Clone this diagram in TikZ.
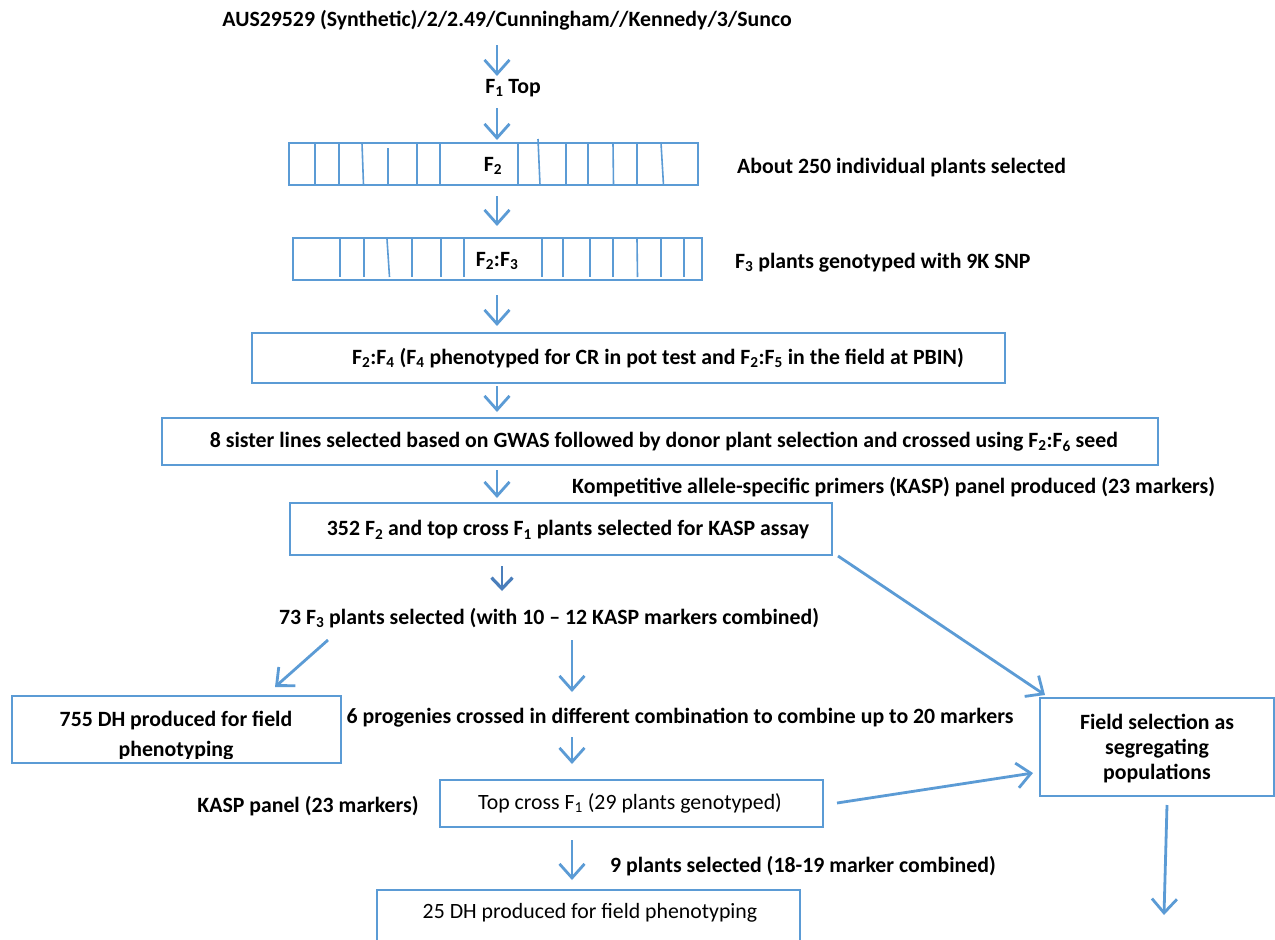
\documentclass[tikz,border=0pt]{standalone}
\usepackage{fontspec}
\setmainfont{Carlito}
\usetikzlibrary{arrows.meta}
\definecolor{bl}{HTML}{5B9BD5}
\definecolor{dbl}{HTML}{4A7EBB}
\tikzset{
  box/.style={draw=bl, line width=1.8pt},
  txt/.style={font=\fontsize{21.8}{25}\selectfont\bfseries, inner sep=0pt},
  rtxt/.style={font=\fontsize{21.8}{25}\selectfont, inner sep=0pt},
  arr/.style={draw=bl, line width=2.8pt, -{Straight Barb[length=14pt,width=25pt,line width=2.8pt]}},
  darr/.style={draw=dbl, line width=2.8pt, -{Straight Barb[length=11pt,width=21pt,line width=3.2pt]}},
  tick/.style={draw=bl, line width=1.6pt}
}
\newcommand{\sbs}[1]{\textsubscript{#1}}
\begin{document}
\begin{tikzpicture}[x=1pt,y=-1pt]
\useasboundingbox (0,0) rectangle (1275,940);
\fill[white] (0,0) rectangle (1275,940);

% texts
\node[txt] (title) at (507,20) {AUS29529 (Synthetic)/2/2.49/Cunningham//Kennedy/3/Sunco};
\node[txt] (f1top) at (513,88) {F\sbs{1} Top};

% F2 box
\draw[box] (289,143) rectangle (698,185);
\foreach \a/\b in {315/315,339/339,362/363.5,417/417,440/440,518/518,566/566,588/588,613/613.5,637/637,661/663.5}
  \draw[tick] (\a,143) -- (\b,185);
\draw[tick] (388,148) -- (388,185);
\draw[tick] (538,139) -- (540,185);
\node[txt] (f2) at (493,166) {F\sbs{2}};
\node[txt, anchor=west] (about) at (737,168) {About 250 individual plants selected};

% F2:F3 box
\draw[box] (293,238) rectangle (702,280);
\foreach \a/\b in {340/340,364/364,387/389.5,412/412,441/441,464/464,542/542,563/563,590/590,613/613,637/637.5,661/661,684/684}
  \draw[tick] (\a,239) -- (\b,277);
\node[txt] (f2f3) at (497,261) {F\sbs{2}:F\sbs{3}};
\node[txt, anchor=west] (f3g) at (735,263) {F\sbs{3} plants genotyped with 9K SNP};

% F2:F4
\draw[box] (252,333) rectangle (1005,383);
\node[txt] (f2f4) at (658,358) {F\sbs{2}:F\sbs{4} (F\sbs{4} phenotyped for CR in pot test and F\sbs{2}:F\sbs{5} in the field at PBIN)};

% 8 sister
\draw[box] (162,418) rectangle (1158,465);
\node[txt] (sister) at (664,442) {8 sister lines selected based on GWAS followed by donor plant selection and crossed using F\sbs{2}:F\sbs{6} seed};

\node[txt, anchor=west] (kasp) at (572,487) {Kompetitive allele-specific primers (KASP) panel produced (23 markers)};

% 352
\draw[box] (290,503) rectangle (832,555);
\node[txt] (b352) at (568,530) {352 F\sbs{2} and top cross F\sbs{1} plants selected for KASP assay};

\node[txt] (f73) at (549,618) {73 F\sbs{3} plants selected (with 10 -- 12 KASP markers combined)};

% 755 DH
\draw[box] (12,696) rectangle (341,763);
\begin{scope}
\clip (12,696) rectangle (341,758);
\node[txt, align=center] (dh755) at (176,736) {755 DH produced for field\\[5pt]phenotyping};
\end{scope}

\node[txt] (prog) at (680,718) {6 progenies crossed in different combination to combine up to 20 markers};

% Field selection
\draw[box] (1040,698) rectangle (1274,796);
\node[txt, align=center] (field) at (1157,749) {Field selection as\\segregating\\populations};

\node[txt] (kpanel) at (308,806) {KASP panel (23 markers)};

% Top cross
\draw[box] (440,780) rectangle (823,827);
\node[rtxt] (topcross) at (630,803) {Top cross F\sbs{1} (29 plants genotyped)};

\node[txt] (nine) at (803,866) {9 plants selected (18-19 marker combined)};

% 25 DH
\draw[box] (377,890) rectangle (800,948);
\node[rtxt] (dh25) at (590,913) {25 DH produced for field phenotyping};

% arrows
\coordinate (a1s) at (497,45);  \coordinate (a1e) at (497,76);
\coordinate (a2s) at (497,108); \coordinate (a2e) at (497,140);
\coordinate (a3s) at (497,196); \coordinate (a3e) at (497,226);
\coordinate (a4s) at (497,295); \coordinate (a4e) at (497,326);
\coordinate (a5s) at (497,386); \coordinate (a5e) at (497,412);
\coordinate (a6s) at (497,470); \coordinate (a6e) at (497,498);
\coordinate (a7s) at (502,566); \coordinate (a7e) at (502,591);
\coordinate (a8s) at (328,640); \coordinate (a8e) at (275,687);
\coordinate (a9s) at (572,640); \coordinate (a9e) at (572,692);
\coordinate (a10s) at (838,556); \coordinate (a10e) at (1045,695);
\coordinate (a11s) at (572,737); \coordinate (a11e) at (572,764);
\coordinate (a12s) at (837,803); \coordinate (a12e) at (1033,773);
\coordinate (a13s) at (1167,805); \coordinate (a13e) at (1164,915);
\coordinate (a14s) at (572,840); \coordinate (a14e) at (572,880);

\foreach \i in {1,2,3,4,5,6,8,9,10,11,12,13,14}
  \draw[arr] (a\i s) -- (a\i e);
\draw[darr] (a7s) -- (a7e);
\end{tikzpicture}
\end{document}
